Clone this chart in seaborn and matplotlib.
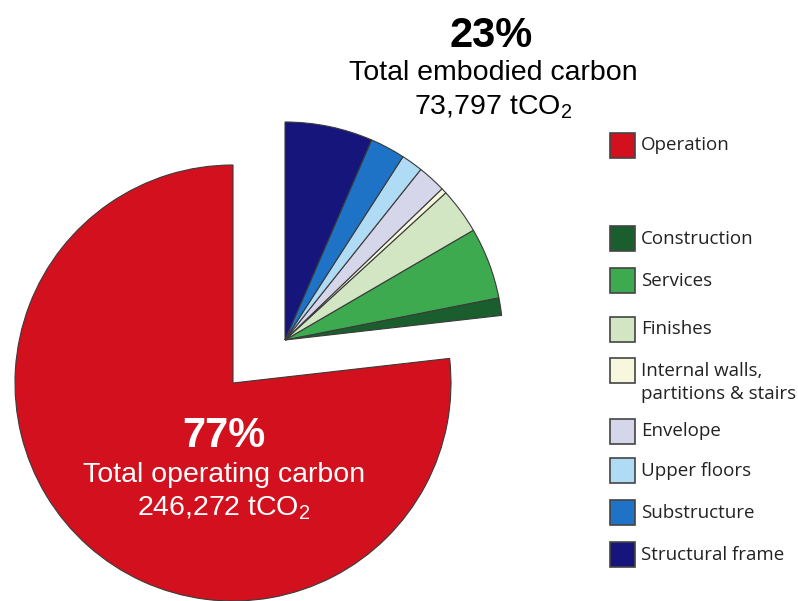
import matplotlib
matplotlib.use("Agg")
import matplotlib.pyplot as plt
from matplotlib.patches import Rectangle
import seaborn as sns

sns.set_theme(style="white")
plt.rcParams["font.family"] = ["Liberation Sans", "DejaVu Sans"]
plt.rcParams["mathtext.fontset"] = "custom"
plt.rcParams["mathtext.rm"] = "Liberation Sans"
plt.rcParams["mathtext.it"] = "Liberation Sans:italic"
plt.rcParams["mathtext.bf"] = "Liberation Sans:bold"

# ---- data (share of total life-cycle carbon, %) ----
operation_label = "Operation"
operation_value = 76.8
embodied_labels = ["Construction", "Services", "Finishes",
                   "Internal walls,\npartitions & stairs", "Envelope",
                   "Upper floors", "Substructure", "Structural frame"]
embodied_values = [1.3, 5.3, 3.4, 0.4, 2.1, 1.6, 2.6, 6.5]
operating_total_text = ["77%", "Total operating carbon", "246,272 tCO$_\\mathrm{2}$"]
embodied_total_text = ["23%", "Total embodied carbon", "73,797 tCO$_\\mathrm{2}$"]

# ---- styles ----
operation_color = "#D3111E"
embodied_colors = ["#1B5E2E", "#3DAA4F", "#D3E6C4", "#F6F7DD",
                   "#D6D6EA", "#AFDBF5", "#1E73C7", "#16157C"]
edge = dict(edgecolor="#3a3a3a", linewidth=0.8)

W, H = 798, 601
R = 218.0                 # pie radius in px
cx, cy = 233.0, 383.0     # centre of operation pie (px from top-left)
ex, ey = 285.0, 340.0     # apex of exploded embodied wedges

fig = plt.figure(figsize=(W / 100, H / 100), dpi=100, facecolor="white")
ax = fig.add_axes([0, 0, 1, 1])

values = embodied_values + [operation_value]
colors = embodied_colors + [operation_color]
total = sum(values)
start = 90 - 360 * sum(embodied_values) / total

# operation wedge (embodied wedges hidden)
w1, _ = ax.pie(values, colors=colors, startangle=start, counterclock=True,
               radius=1.0, center=(0, 0), wedgeprops=edge)
for w in w1[:-1]:
    w.set_visible(False)

# embodied wedges, pulled out as one block (operation hidden)
w2, _ = ax.pie(values, colors=colors, startangle=start, counterclock=True,
               radius=1.0, center=((ex - cx) / R, (cy - ey) / R), wedgeprops=edge)
w2[-1].set_visible(False)

ax.set_xlim(-cx / R, (W - cx) / R)
ax.set_ylim(-(H - cy) / R, cy / R)
ax.set_aspect("equal", adjustable="datalim")
ax.axis("off")

def ftext(x, y, s, **kw):
    fig.text(x / W, 1 - y / H, s, **kw)

# embodied annotation
ftext(491, 47, embodied_total_text[0], ha="center", va="baseline",
      fontsize=30, fontweight="bold", color="black")
ftext(493, 80, embodied_total_text[1], ha="center", va="baseline",
      fontsize=20.5, color="black")
ftext(493, 114, embodied_total_text[2], ha="center", va="baseline",
      fontsize=20.5, color="black")

# operating annotation
ftext(224, 447, operating_total_text[0], ha="center", va="baseline",
      fontsize=30, fontweight="bold", color="white")
ftext(224, 482, operating_total_text[1], ha="center", va="baseline",
      fontsize=20.5, color="white")
ftext(224, 516, operating_total_text[2], ha="center", va="baseline",
      fontsize=20.5, color="white")

# legend (drawn manually to match layout)
leg_labels = [operation_label] + embodied_labels
leg_colors = [operation_color] + embodied_colors
leg_y = [133, 226, 268, 317, 358, 419, 458, 500, 542]   # top of each square
sq = 25
for lab, col, y in zip(leg_labels, leg_colors, leg_y):
    fig.patches.append(Rectangle((610 / W, 1 - (y + sq) / H), sq / W, sq / H,
                                 transform=fig.transFigure, facecolor=col,
                                 edgecolor="#444444", linewidth=1.2))
    fig.text(641 / W, 1 - (y + 12.5) / H, lab.split("\n")[0], ha="left",
             va="center", fontsize=13.5, family=["Open Sans", "DejaVu Sans"],
             color="#222222")
    if "\n" in lab:
        fig.text(641 / W, 1 - (y + 36) / H, lab.split("\n")[1], ha="left",
                 va="center", fontsize=13.5, family=["Open Sans", "DejaVu Sans"],
                 color="#222222")

fig.savefig("out.png", dpi=100, facecolor="white")
